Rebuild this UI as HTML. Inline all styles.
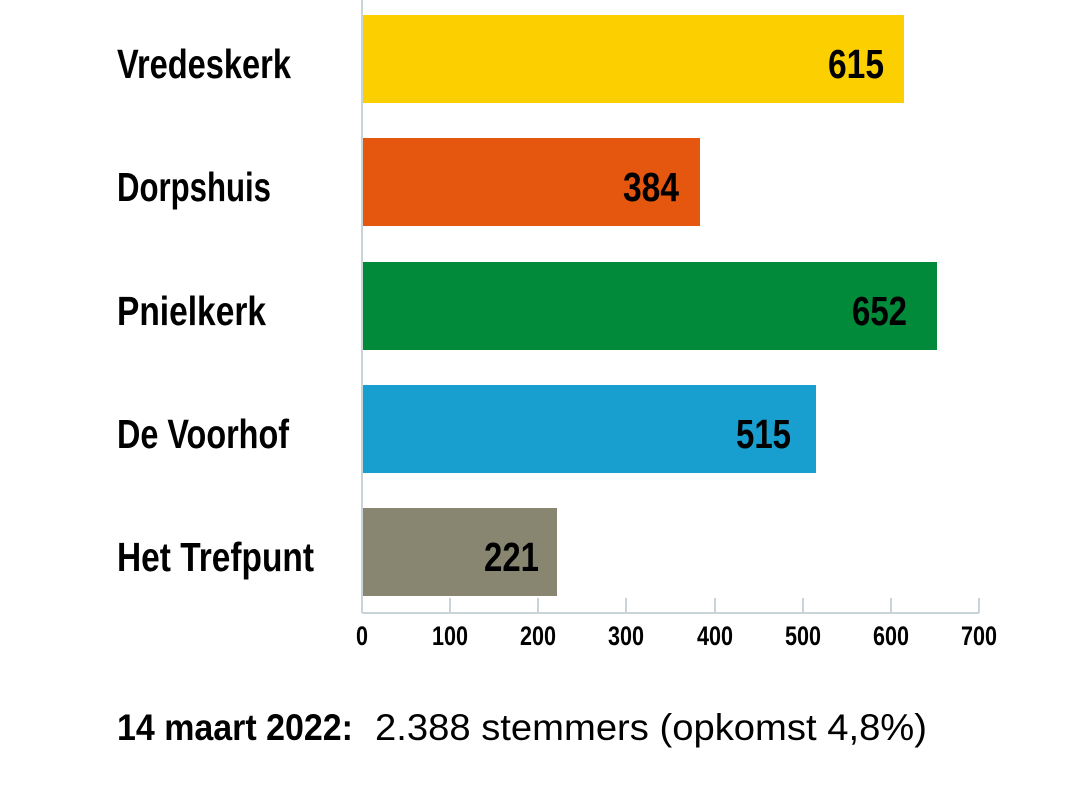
<!DOCTYPE html>
<html><head><meta charset="utf-8"><style>
html,body{margin:0;padding:0;background:#fff;}
svg{display:block;}
text{font-family:"Liberation Sans Narrow","Liberation Sans",sans-serif;font-weight:bold;fill:#000;}
</style></head><body>
<svg width="1068" height="791" viewBox="0 0 1068 791" xmlns="http://www.w3.org/2000/svg">
<rect x="362" y="15" width="542" height="88" fill="#fccf00"/>
<rect x="362" y="138" width="338" height="88" fill="#e5560e"/>
<rect x="362" y="262" width="575" height="88" fill="#008a3a"/>
<rect x="362" y="385" width="454" height="88" fill="#189fd0"/>
<rect x="362" y="508" width="195" height="88" fill="#888670"/>
<g stroke="#c8d4d8" stroke-width="2">
<line x1="362" y1="0" x2="362" y2="613"/>
<line x1="362" y1="613" x2="979" y2="613"/>
<line x1="450" y1="598" x2="450" y2="613"/>
<line x1="538" y1="598" x2="538" y2="613"/>
<line x1="626" y1="598" x2="626" y2="613"/>
<line x1="715" y1="598" x2="715" y2="613"/>
<line x1="803" y1="598" x2="803" y2="613"/>
<line x1="891" y1="598" x2="891" y2="613"/>
<line x1="979" y1="598" x2="979" y2="613"/>
</g>
<g font-size="41">
<text x="117" y="78" textLength="174" lengthAdjust="spacingAndGlyphs">Vredeskerk</text>
<text x="117" y="201" textLength="154" lengthAdjust="spacingAndGlyphs">Dorpshuis</text>
<text x="117" y="325" textLength="149" lengthAdjust="spacingAndGlyphs">Pnielkerk</text>
<text x="117" y="448" textLength="172" lengthAdjust="spacingAndGlyphs">De Voorhof</text>
<text x="117" y="571" textLength="197" lengthAdjust="spacingAndGlyphs">Het Trefpunt</text>
<text x="828" y="78" textLength="56" lengthAdjust="spacingAndGlyphs">615</text>
<text x="623" y="201" textLength="56" lengthAdjust="spacingAndGlyphs">384</text>
<text x="852" y="325" textLength="55" lengthAdjust="spacingAndGlyphs">652</text>
<text x="736" y="448" textLength="55" lengthAdjust="spacingAndGlyphs">515</text>
<text x="484" y="571" textLength="55" lengthAdjust="spacingAndGlyphs">221</text>
</g>
<g font-size="27">
<text x="356" y="645" textLength="12" lengthAdjust="spacingAndGlyphs">0</text>
<text x="432" y="645" textLength="36" lengthAdjust="spacingAndGlyphs">100</text>
<text x="520" y="645" textLength="36" lengthAdjust="spacingAndGlyphs">200</text>
<text x="608" y="645" textLength="36" lengthAdjust="spacingAndGlyphs">300</text>
<text x="697" y="645" textLength="36" lengthAdjust="spacingAndGlyphs">400</text>
<text x="785" y="645" textLength="36" lengthAdjust="spacingAndGlyphs">500</text>
<text x="873" y="645" textLength="36" lengthAdjust="spacingAndGlyphs">600</text>
<text x="961" y="645" textLength="36" lengthAdjust="spacingAndGlyphs">700</text>
</g>
<text x="117" y="740" font-size="37" textLength="236" lengthAdjust="spacingAndGlyphs">14 maart 2022:</text>
<text x="375" y="740" font-size="37" style="font-weight:normal;font-family:'Liberation Sans',sans-serif" textLength="552" lengthAdjust="spacingAndGlyphs">2.388 stemmers (opkomst 4,8%)</text>
</svg>
</body></html>
